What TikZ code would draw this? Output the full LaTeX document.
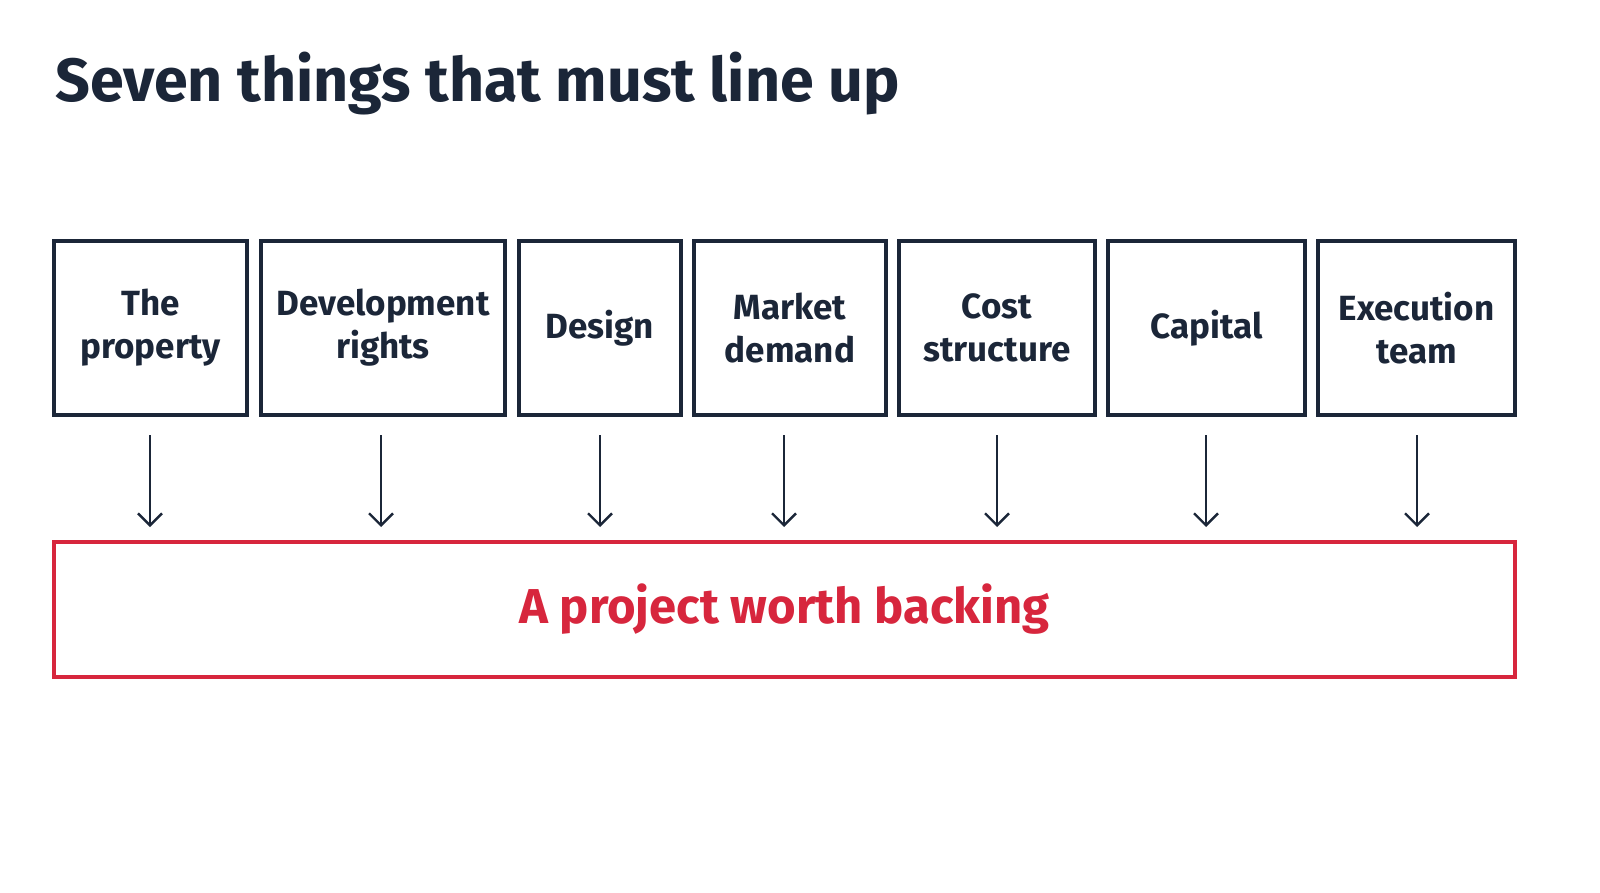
\documentclass[tikz,border=0pt]{standalone}
\usepackage{fontspec}
\usetikzlibrary{arrows.meta}
\setmainfont{Fira Sans}
\definecolor{navy}{HTML}{1B2638}
\definecolor{rd}{HTML}{D7263D}
\begin{document}
\begin{tikzpicture}[x=0.5pt,y=-0.5pt,
  box/.style={draw=navy,line width=2pt,inner sep=0pt,text=navy,align=center,font=\fontsize{17.5}{21.5}\selectfont\bfseries},
  arr/.style={draw=navy,line width=1.2pt,-{Straight Barb[length=6pt,width=12pt]}}]
\useasboundingbox (0,0) rectangle (1600,893);
\node[anchor=base west,text=navy,font=\fontsize{30.5}{36}\selectfont\bfseries,inner sep=0pt] (t) at (55,102) {Seven things that must line up};
\foreach \n/\a/\b/\txt in {1/54/247/{The\\property},2/261/505/{Development\\rights},3/519/681/{Design},4/694/886/{Market\\demand},5/899/1095/{Cost\\structure},6/1108/1305/{Capital},7/1318/1515/{Execution\\team}}{
  \node[box,minimum width={(\b-\a)*0.5pt},minimum height=87pt] (b\n) at ({(\a+\b)/2},328) {\txt};
}
\node[draw=rd,line width=2pt,minimum width=730.5pt,minimum height=67.5pt,text=rd,font=\fontsize{24.5}{30}\selectfont\bfseries] (r) at (784.5,609.5) {A project worth backing};
\foreach \n/\x in {1/150,2/381,3/600,4/784,5/997,6/1206,7/1417}{
  \coordinate (s\n) at (\x,435); \coordinate (e\n) at (\x,527);
  \draw[arr] (s\n) -- (e\n);
}
\end{tikzpicture}
\end{document}
